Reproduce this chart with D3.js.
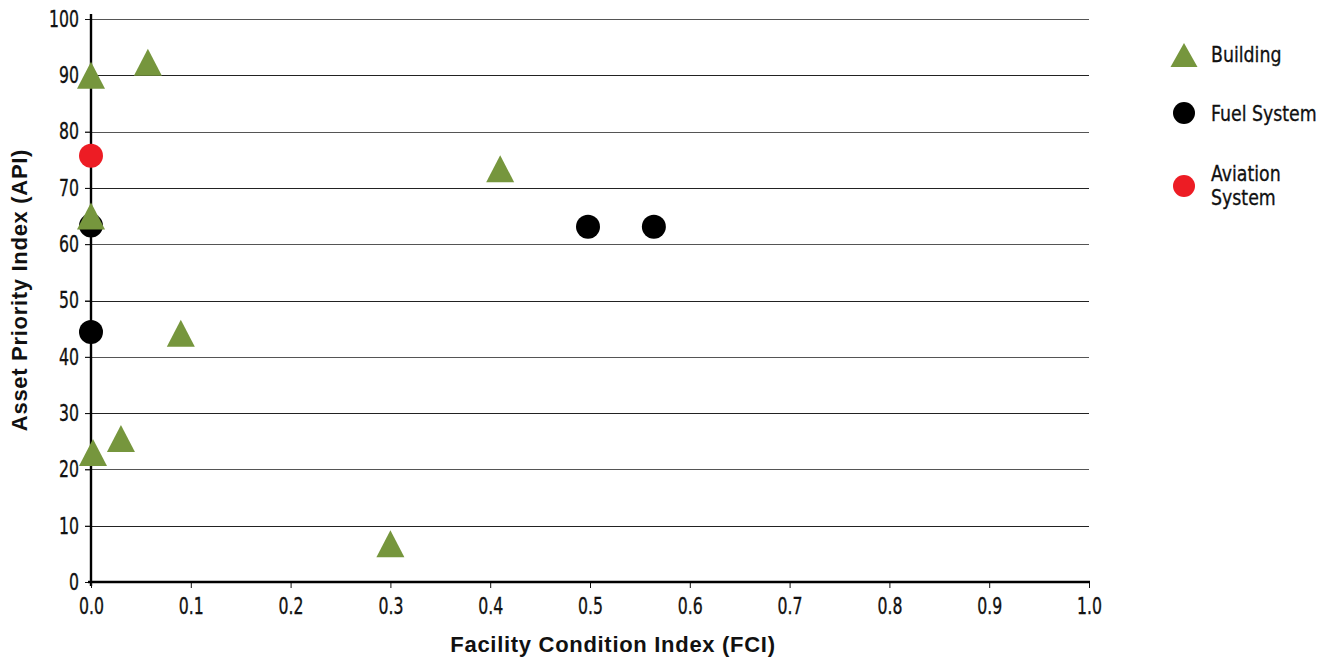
<!DOCTYPE html>
<html><head><meta charset="utf-8">
<script src="https://cdn.jsdelivr.net/npm/d3@7"></script>
<style>
body{margin:0;background:#fff;}
.tick-label{font-family:"DejaVu Sans Condensed","DejaVu Sans",sans-serif;font-size:23px;fill:#111;stroke:#111;stroke-width:0.35px;}
.title{font-family:"Liberation Sans",Arial,sans-serif;font-weight:bold;font-size:22px;letter-spacing:0.7px;fill:#111;}
.leg{font-family:"DejaVu Sans Condensed","DejaVu Sans",sans-serif;font-size:21px;fill:#111;stroke:#111;stroke-width:0.3px;}
</style></head>
<body><svg id="c" width="1338" height="659"></svg>
<script>
const xTicks = [0,0.1,0.2,0.3,0.4,0.5,0.6,0.7,0.8,0.9,1.0];
const yTicks = [0,10,20,30,40,50,60,70,80,90,100];
const buildingFCI = [0.0, 0.057, 0.41, 0.0, 0.09, 0.002, 0.03, 0.30];
const buildingAPI = [90, 92.3, 73.4, 65, 44.2, 23, 25.5, 6.8];
const fuelFCI = [0.0, 0.0, 0.498, 0.564];
const fuelAPI = [63.3, 44.4, 63.1, 63.1];
const aviationFCI = [0.0];
const aviationAPI = [75.7];
const legendLabels = [["Building"],["Fuel System"],["Aviation","System"]];

const svg = d3.select("#c");
const x = d3.scaleLinear().domain([0,1]).range([91,1089]);
const y = d3.scaleLinear().domain([0,100]).range([582,19]);
const green = "#76963d", red = "#ed1c24";
const SX = 0.76;

// gridlines
svg.append("g").selectAll("line").data(yTicks.filter(d=>d>0)).join("line")
  .attr("x1",85).attr("x2",1089).attr("y1",d=>Math.round(y(d))+0.5).attr("y2",d=>Math.round(y(d))+0.5)
  .attr("stroke",(d,i)=>i%2? "#555":"#222").attr("stroke-width",1.2);

// y axis
const ya = svg.append("g").attr("transform","translate(91,0)")
  .call(d3.axisLeft(y).tickValues(yTicks).tickSize(6).tickFormat(d3.format("d")));
ya.attr("font-size",null).attr("font-family",null);
ya.select(".domain").remove();
ya.selectAll(".tick line").attr("stroke","#111");
ya.selectAll("text").attr("class","tick-label").attr("x",0).attr("fill","#111")
  .attr("transform",`translate(-12,0) scale(${SX},1)`);
svg.append("line").attr("x1",91).attr("x2",91).attr("y1",14).attr("y2",586).attr("stroke","#000").attr("stroke-width",2.4);

// x axis
const xa = svg.append("g").attr("transform","translate(0,582)")
  .call(d3.axisBottom(x).tickValues(xTicks).tickSize(6).tickFormat(d3.format(".1f")));
xa.attr("font-size",null).attr("font-family",null);
xa.select(".domain").remove();
xa.selectAll(".tick line").attr("stroke","#111");
xa.selectAll("text").attr("class","tick-label").attr("y",0).attr("fill","#111")
  .attr("transform",`translate(0,16) scale(${SX},1)`);
svg.append("line").attr("x1",88).attr("x2",1090).attr("y1",582).attr("y2",582).attr("stroke","#000").attr("stroke-width",2.4);

// titles
svg.append("text").attr("class","title").attr("x",613).attr("y",652).attr("text-anchor","middle").text("Facility Condition Index (FCI)");
svg.append("text").attr("class","title").attr("transform","translate(27,290) rotate(-90)").attr("text-anchor","middle").text("Asset Priority Index (API)");

const triPath = (w,h) => `M0,${-h/2}L${w/2},${h/2}L${-w/2},${h/2}Z`;

// fuel circles
svg.append("g").selectAll("circle").data(fuelFCI.map((f,i)=>[f,fuelAPI[i]])).join("circle")
  .attr("cx",d=>x(d[0])).attr("cy",d=>y(d[1])).attr("r",12).attr("fill","#000");
// aviation
svg.append("g").selectAll("circle").data(aviationFCI.map((f,i)=>[f,aviationAPI[i]])).join("circle")
  .attr("cx",d=>x(d[0])).attr("cy",d=>y(d[1])).attr("r",12).attr("fill",red);
// buildings
svg.append("g").selectAll("path").data(buildingFCI.map((f,i)=>[f,buildingAPI[i]])).join("path")
  .attr("d",triPath(28,27)).attr("transform",d=>`translate(${x(d[0])},${y(d[1])})`).attr("fill",green);

// legend
const lg = svg.append("g");
lg.append("path").attr("d",triPath(27,24)).attr("transform","translate(1184,55)").attr("fill",green);
lg.append("circle").attr("cx",1184).attr("cy",113).attr("r",11).attr("fill","#000");
lg.append("circle").attr("cx",1184).attr("cy",186).attr("r",11).attr("fill",red);
const legY = [62,121,181];
legendLabels.forEach((lines,i)=>{
  const t = lg.append("text").attr("class","leg").attr("transform",`translate(1211,${legY[i]}) scale(0.92,1)`);
  lines.forEach((l,j)=>t.append("tspan").attr("x",0).attr("dy",j?24:0).text(l));
});
</script></body></html>
